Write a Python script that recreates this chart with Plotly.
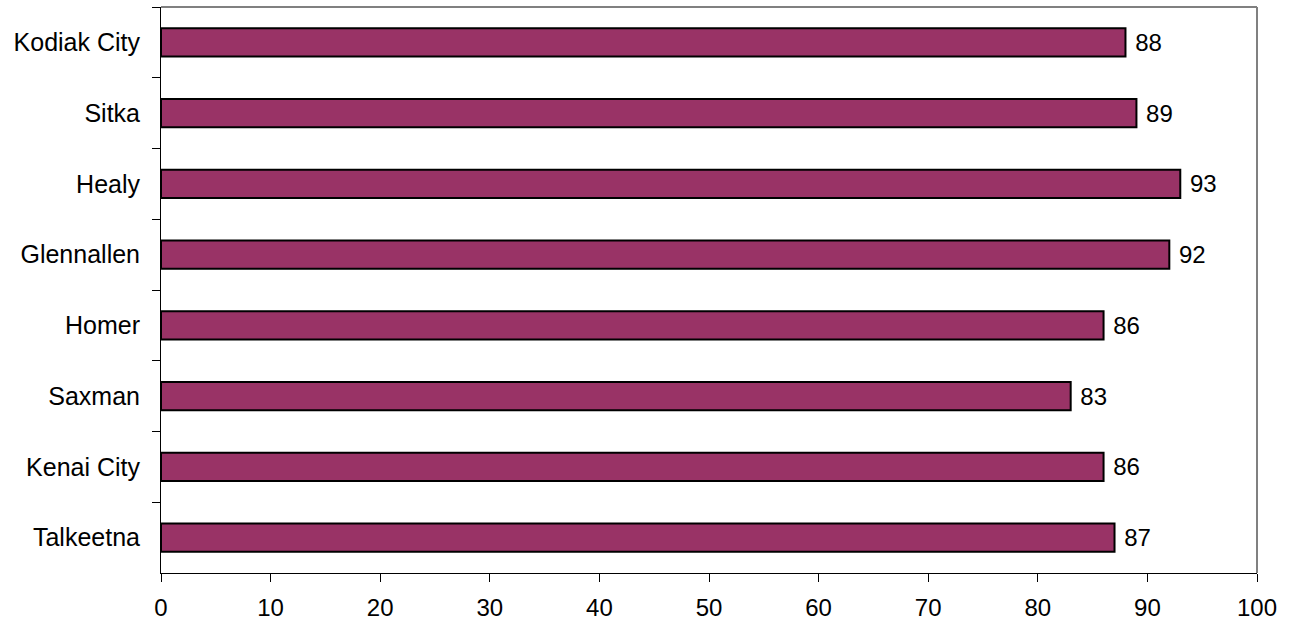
import plotly.graph_objects as go

# Community names, top to bottom
communities = ["Kodiak City", "Sitka", "Healy", "Glennallen", "Homer", "Saxman", "Kenai City", "Talkeetna"]
values = [88, 89, 93, 92, 86, 83, 86, 87]
x_ticks = [0, 10, 20, 30, 40, 50, 60, 70, 80, 90, 100]

FONT = "Liberation Sans, Arial, sans-serif"

fig = go.Figure(
    go.Bar(
        x=values,
        y=communities,
        orientation="h",
        width=0.4,
        marker=dict(color="#993366", line=dict(color="#000000", width=2)),
        texttemplate=" %{x}",
        textposition="outside",
        textfont=dict(family=FONT, size=24, color="#000000"),
        cliponaxis=False,
        hoverinfo="skip",
    )
)

fig.update_layout(
    width=1295,
    height=625,
    margin=dict(l=161, r=38, t=7, b=52),
    paper_bgcolor="#ffffff",
    plot_bgcolor="#ffffff",
    showlegend=False,
    font=dict(family=FONT, size=24, color="#000000"),
    bargap=0.6,
)

fig.update_xaxes(
    range=[0, 100],
    tickvals=x_ticks,
    ticks="outside",
    ticklen=8,
    tickwidth=1,
    tickcolor="#000000",
    showline=True,
    linecolor="#000000",
    linewidth=1,
    showgrid=False,
    zeroline=False,
    automargin=False,
    tickfont=dict(family=FONT, size=24, color="#000000"),
    ticklabelstandoff=5,
)

fig.update_yaxes(
    categoryorder="array",
    categoryarray=communities,
    autorange="reversed",
    tickson="boundaries",
    ticks="outside",
    ticklen=8,
    tickwidth=1,
    tickcolor="#000000",
    showline=True,
    linecolor="#000000",
    linewidth=1,
    showgrid=False,
    zeroline=False,
    automargin=False,
    tickfont=dict(family=FONT, size=25, color="#000000"),
    ticklabelstandoff=15,
)

# Gray frame on the top and right edges of the plot area
fig.add_shape(type="line", xref="paper", yref="paper", x0=0, x1=1, y0=1, y1=1,
              line=dict(color="#808080", width=2))
fig.add_shape(type="line", xref="paper", yref="paper", x0=1, x1=1, y0=0, y1=1,
              line=dict(color="#808080", width=2))

fig.write_html("out.html")
